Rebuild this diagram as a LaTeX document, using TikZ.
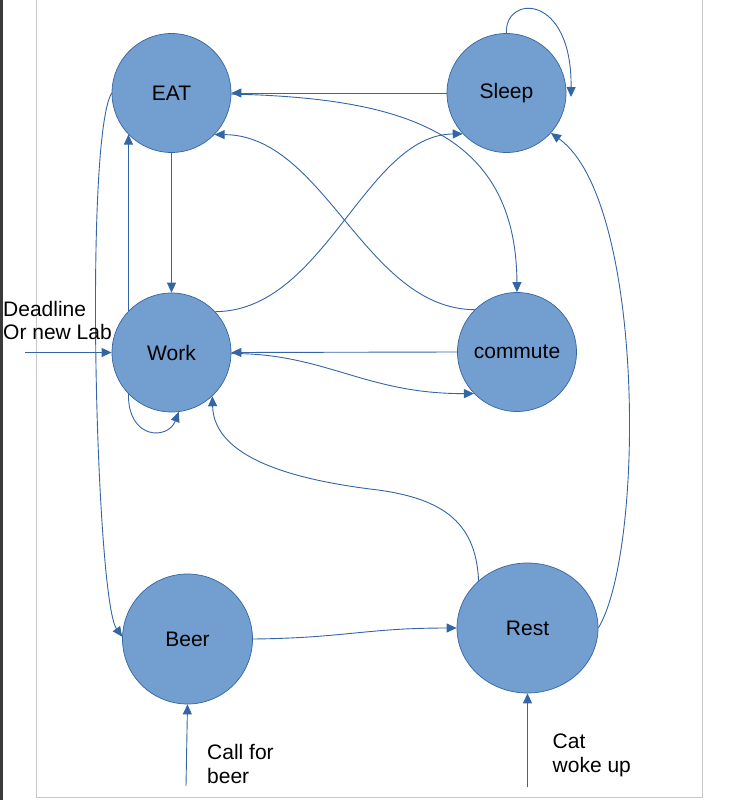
\documentclass[tikz,border=0pt]{standalone}
\usepackage{fontspec}
\setmainfont{Liberation Sans}
\usetikzlibrary{arrows.meta,shapes.geometric}
\definecolor{statefill}{HTML}{729FCF}
\definecolor{stateline}{HTML}{3465A4}
\definecolor{framegray}{HTML}{C8C8C8}
\definecolor{edgegray}{HTML}{3A3A3A}
\tikzset{
    state/.style={circle, draw=stateline, fill=statefill, line width=0.7pt,
        minimum size=119pt, inner sep=0pt, font=\fontsize{21}{24}\selectfont},
    trans/.style={draw=stateline, line width=0.9pt,
        -{Triangle[length=10pt,width=9pt]}},
    cue/.style={anchor=north west, inner sep=0pt, align=left,
        font=\fontsize{21}{23.5}\selectfont}
}
\begin{document}
\begin{tikzpicture}[x=1pt,y=-1pt]
    \useasboundingbox (0,0) rectangle (734,800);
    % Draw the page frame
    \fill[edgegray] (0,0) rectangle (2.5,800);
    \draw[framegray, line width=1.2pt] (36.5,0) -- (36.5,797.5) -- (702.5,797.5) -- (702.5,0);

    % Place the states
    \node[state] (eat) at (171.5,93) {EAT};
    \node[state] (sleep) at (506.5,93) {Sleep};
    \node[state] (work) at (171.5,352.5) {Work};
    \node[state] (commute) at (517,352) {commute};
    \node[state, minimum size=130pt] (beer) at (187.5,639) {Beer};
    \node[state, ellipse, minimum width=141pt, minimum height=130pt] (rest) at (527.5,628) {Rest};

    % Free ends of the outside cues
    \coordinate (deadline) at (25,352.5);
    \coordinate (callbeer) at (186,786);
    \coordinate (catwoke) at (527.5,787);
    \coordinate (sleeploop) at (571,97);

    % Straight transitions
    \draw[trans] (eat.south) -- (work.north);
    \draw[trans] (work.136) -- (eat.224);
    \draw[trans] (sleep.west) -- (eat.east);
    \draw[trans] (commute.west) -- (work.east);
    \draw[trans] (deadline) -- (work.west);
    \draw[trans] (callbeer) -- (beer.south);
    \draw[trans] (catwoke) -- (rest.south);

    % Curved transitions
    \draw[trans] (eat.-1) .. controls (400,98) and (516,130) .. (commute.north);
    \draw[trans] (commute.135) .. controls (365,309) and (325,135) .. (eat.-44);
    \draw[trans] (work.43) .. controls (325,311) and (365,135) .. (sleep.223);
    \draw[trans] (work.-1) .. controls (325,353) and (365,394) .. (commute.224);
    \draw[trans] (beer.east) .. controls (345,638) and (365,628) .. (rest.west);
    \draw[trans] (eat.west) .. controls (84,140) and (96,600) .. (beer.178);
    \draw[trans] (rest.east) .. controls (645,550) and (645,200) .. (sleep.-42);
    \draw[trans] (rest.136) .. controls (476,520) and (440,497) .. (370,489)
        .. controls (300,480) and (214,460) .. (work.-47);

    % Self loops
    \draw[trans] (work.224) .. controls (128,440) and (168,440) .. (work.-83);
    \draw[trans] (sleep.north) .. controls (504,-5) and (572,-8) .. (sleeploop);

    % Outside cues
    \node[cue] (deadlinetext) at (3,301) {Deadline\\Or new Lab};
    \node[cue] (callbeertext) at (207,744.5) {Call for\\beer};
    \node[cue] (catwoketext) at (552.5,734) {Cat\\woke up};
\end{tikzpicture}
\end{document}
